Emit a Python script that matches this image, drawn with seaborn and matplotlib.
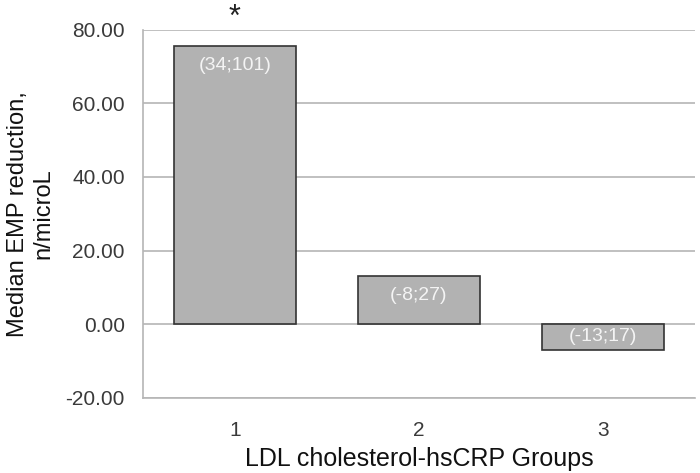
import pandas as pd
import numpy as np
import matplotlib
matplotlib.use('Agg')
import matplotlib.pyplot as plt
import seaborn as sns

# data
groups = ['1', '2', '3']
median_reduction = [75.5, 13.0, -7.1]
iqr_labels = ['(34;101)', '(-8;27)', '(-13;17)']
significant = [True, False, False]

data = pd.DataFrame({'Group': groups, 'Reduction': median_reduction})

sns.set_style('white')
plt.rcParams['font.family'] = ['Liberation Sans', 'DejaVu Sans']

fig, ax = plt.subplots(figsize=(7, 4.73), dpi=100)
fig.subplots_adjust(left=0.204, right=0.993, top=0.937, bottom=0.159)

sns.barplot(data=data, x='Group', y='Reduction', color='#b2b2b2', saturation=1,
            edgecolor='#333333', linewidth=1.2, width=0.66, ax=ax, zorder=3)

ax.set_ylim(-20, 80)
ax.set_xlim(-0.5, 2.5)
ax.set_yticks(np.arange(-20, 81, 20))
ax.set_yticklabels([f'{v:.2f}' for v in np.arange(-20, 81, 20)])
ax.grid(axis='y', color='#b5b5b5', linewidth=1.2, zorder=0)
ax.set_axisbelow(True)

for s in ['top', 'right']:
    ax.spines[s].set_visible(False)
for s in ['left', 'bottom']:
    ax.spines[s].set_color('#b5b5b5')
    ax.spines[s].set_linewidth(1.2)

ax.tick_params(axis='both', colors='#b5b5b5', labelcolor='#3a3a3a', labelsize=15,
               length=7, width=1.2, direction='out')
ax.tick_params(axis='y', pad=6)
ax.tick_params(axis='x', pad=10)

ax.set_xlabel('LDL cholesterol-hsCRP Groups', fontsize=18, color='#111111', labelpad=5)
ax.set_ylabel('Median EMP reduction,\nn/microL', fontsize=17, color='#111111', labelpad=8)

# IQR labels inside the bars and significance star
for i, (v, lab, sig) in enumerate(zip(median_reduction, iqr_labels, significant)):
    off = -8 if v > 0 else -3
    ax.annotate(lab, (i, max(v, 0)), xytext=(0, off), textcoords='offset points',
                ha='center', va='top', color='#f4f4f4', fontsize=14, zorder=4)
    if sig:
        ax.annotate('*', (i, v), xytext=(0, 10), textcoords='offset points',
                    ha='center', va='bottom', color='#222222', fontsize=22,
                    annotation_clip=False)

plt.savefig('out.png', dpi=100)
